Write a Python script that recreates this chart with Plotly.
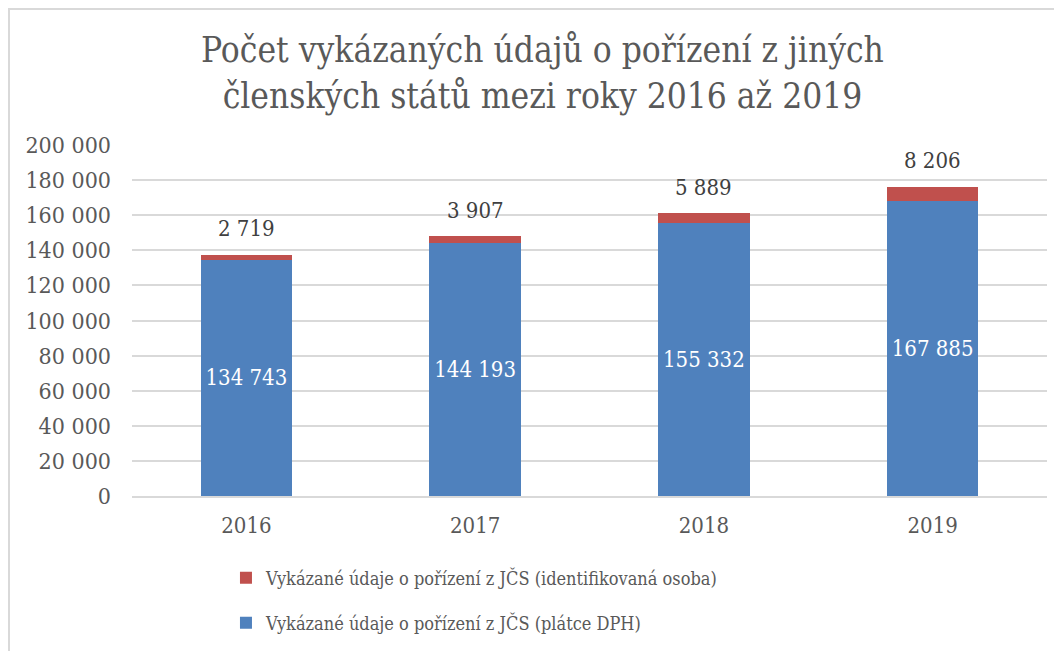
import plotly.graph_objects as go

years = ["2016", "2017", "2018", "2019"]
platce_dph = [134743, 144193, 155332, 167885]
identifikovana_osoba = [2719, 3907, 5889, 8206]
y_ticks = [0, 20000, 40000, 60000, 80000, 100000, 120000, 140000, 160000, 180000, 200000]

title_text = "Počet vykázaných údajů o pořízení z jiných<br>členských států mezi roky 2016 až 2019"
name_red = "Vykázané údaje o pořízení z JČS (identifikovaná osoba)"
name_blue = "Vykázané údaje o pořízení z JČS (plátce DPH)"

FONT = "DejaVu Serif Condensed, DejaVu Serif, serif"

def fmt(v):
    return f"{v:,}".replace(",", " ")

fig = go.Figure()
fig.add_trace(go.Bar(
    x=years, y=platce_dph, name=name_blue,
    marker=dict(color="#4F81BD", line=dict(width=0)),
    text=[fmt(v) for v in platce_dph], textposition="inside",
    insidetextanchor="middle", constraintext="none", textangle=0,
    textfont=dict(family=FONT, size=22, color="white"),
    legend="legend2",
))
fig.add_trace(go.Bar(
    x=years, y=identifikovana_osoba, name=name_red,
    marker=dict(color="#C0504D", line=dict(width=0)),
    textposition="none",
    legend="legend",
))

# top labels: category index positions on the category axis
for i, (b, r) in enumerate(zip(platce_dph, identifikovana_osoba)):
    fig.add_annotation(x=i, y=b + r, text=fmt(r), showarrow=False,
                       yanchor="middle", yshift=26,
                       font=dict(family=FONT, size=22, color="#404040"))

fig.update_layout(
    width=1062, height=651,
    margin=dict(l=124, r=23, t=137, b=163, autoexpand=False),
    paper_bgcolor="white", plot_bgcolor="white",
    barmode="stack", bargap=0.6,
    separators=", ",
    title=dict(text=title_text, x=0.5033, xanchor="center", y=0.917, yanchor="middle",
               font=dict(family=FONT, size=35, color="#595959")),
    font=dict(family=FONT, color="#595959"),
    xaxis=dict(type="category", categoryorder="array", categoryarray=years,
               showgrid=False, showline=True, linecolor="#D9D9D9", linewidth=1.5,
               tickfont=dict(family=FONT, size=22, color="#595959"),
               ticks="", ticklabelstandoff=9),
    yaxis=dict(range=[0, 200000], tickvals=y_ticks, tickformat=",d",
               showgrid=True, gridcolor="#D9D9D9", gridwidth=1.5,
               zeroline=False, showline=False,
               tickfont=dict(family=FONT, size=23, color="#595959"),
               ticks="", ticklabelstandoff=20),
    legend=dict(x=0.1027, xanchor="left", y=-0.2336, yanchor="middle",
                font=dict(family=FONT, size=18, color="#595959"),
                bgcolor="rgba(0,0,0,0)"),
    legend2=dict(x=0.1027, xanchor="left", y=-0.3618, yanchor="middle",
                 font=dict(family=FONT, size=18, color="#595959"),
                 bgcolor="rgba(0,0,0,0)"),
    showlegend=True,
)

fig.add_shape(type="rect", xref="paper", yref="paper",
              x0=(1 - 124) / 915, x1=1.2, y0=-1.0, y1=1 + (137 - 1) / 351,
              line=dict(color="#D9D9D9", width=2), fillcolor="rgba(0,0,0,0)",
              layer="below")

fig.write_html("out.html")
